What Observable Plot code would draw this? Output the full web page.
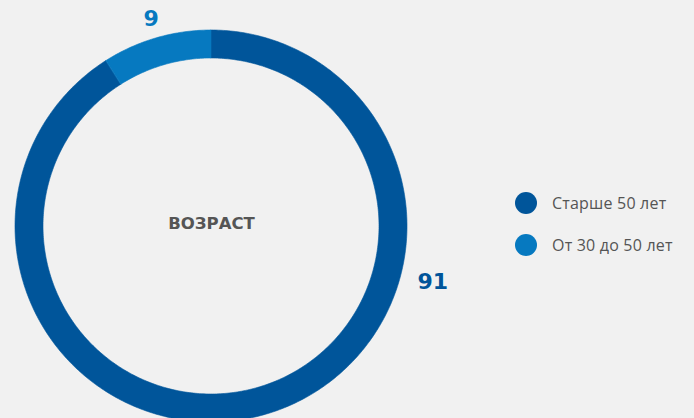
<!DOCTYPE html>
<html>
<head>
<meta charset="utf-8">
<script src="https://cdn.jsdelivr.net/npm/d3@7"></script>
<script src="https://cdn.jsdelivr.net/npm/@observablehq/plot@0.6"></script>
<style>
  html, body { margin: 0; padding: 0; background: #f1f1f1; }
  #wrap { position: relative; width: 694px; height: 418px; overflow: hidden; }
  #legend { position: absolute; left: 515px; top: 192px; font-family: "Open Sans", sans-serif; font-size: 16px; letter-spacing: 0.2px; color: #555; }
  .item { display: flex; align-items: center; height: 22px; margin-bottom: 20px; }
  .sw { width: 22px; height: 22px; border-radius: 50%; margin-right: 15px; flex: none; }
</style>
</head>
<body>
<div id="wrap"><div id="legend"></div></div>
<script>
const categories = ["Старше 50 лет", "От 30 до 50 лет"];
const values = [91, 9];
const colors = ["#00559a", "#0679c0"];
const centerTitle = "ВОЗРАСТ";

// layout (pixels)
const W = 694, H = 418;
const cx = 211, cy = 226;
const rOut = 196, rIn = 168;
const labelRadius = [228, 216];
const labelAngleDeg = [104, null]; // null = middle of slice

const arcs = d3.pie().sort(null).value(d => d)(values);

const ring = [];
arcs.forEach((a, i) => {
  const n = Math.max(8, Math.ceil((a.endAngle - a.startAngle) * 80));
  for (let k = 0; k <= n; k++) {
    const t = a.startAngle + (a.endAngle - a.startAngle) * k / n;
    ring.push({
      cat: categories[i],
      x1: rIn * Math.sin(t), y1: -rIn * Math.cos(t),
      x2: rOut * Math.sin(t), y2: -rOut * Math.cos(t)
    });
  }
});

const labels = arcs.map((a, i) => {
  const ang = labelAngleDeg[i] == null ? (a.startAngle + a.endAngle) / 2 : labelAngleDeg[i] * Math.PI / 180;
  return { cat: categories[i], text: String(values[i]), x: labelRadius[i] * Math.sin(ang), y: -labelRadius[i] * Math.cos(ang) };
});

const chart = Plot.plot({
  width: W, height: H,
  margin: 0,
  style: { background: "#f1f1f1", overflow: "visible" },
  x: { domain: [-cx, W - cx], range: [0, W], axis: null },
  y: { domain: [-cy, H - cy], range: [0, H], axis: null },
  color: { domain: categories, range: colors },
  marks: [
    Plot.area(ring, { x1: "x1", y1: "y1", x2: "x2", y2: "y2", z: "cat", fill: "cat", stroke: "cat", strokeWidth: 0.6, curve: "linear" }),
    Plot.text(labels, { x: "x", y: "y", text: "text", fill: "cat", fontSize: 22, fontWeight: "bold", fontFamily: "'DejaVu Sans', sans-serif", textAnchor: "middle" }),
    Plot.text([centerTitle], { x: [0], y: [-3], text: d => d, fill: "#555", fontSize: 16.5, fontWeight: "bold", fontFamily: "'DejaVu Sans', sans-serif", textAnchor: "middle" })
  ]
});
document.getElementById("wrap").prepend(chart);

const legend = document.getElementById("legend");
categories.forEach((c, i) => {
  const it = document.createElement("div");
  it.className = "item";
  const sw = document.createElement("span");
  sw.className = "sw";
  sw.style.background = colors[i];
  const tx = document.createElement("span");
  tx.textContent = c;
  it.append(sw, tx);
  legend.append(it);
});
</script>
</body>
</html>
